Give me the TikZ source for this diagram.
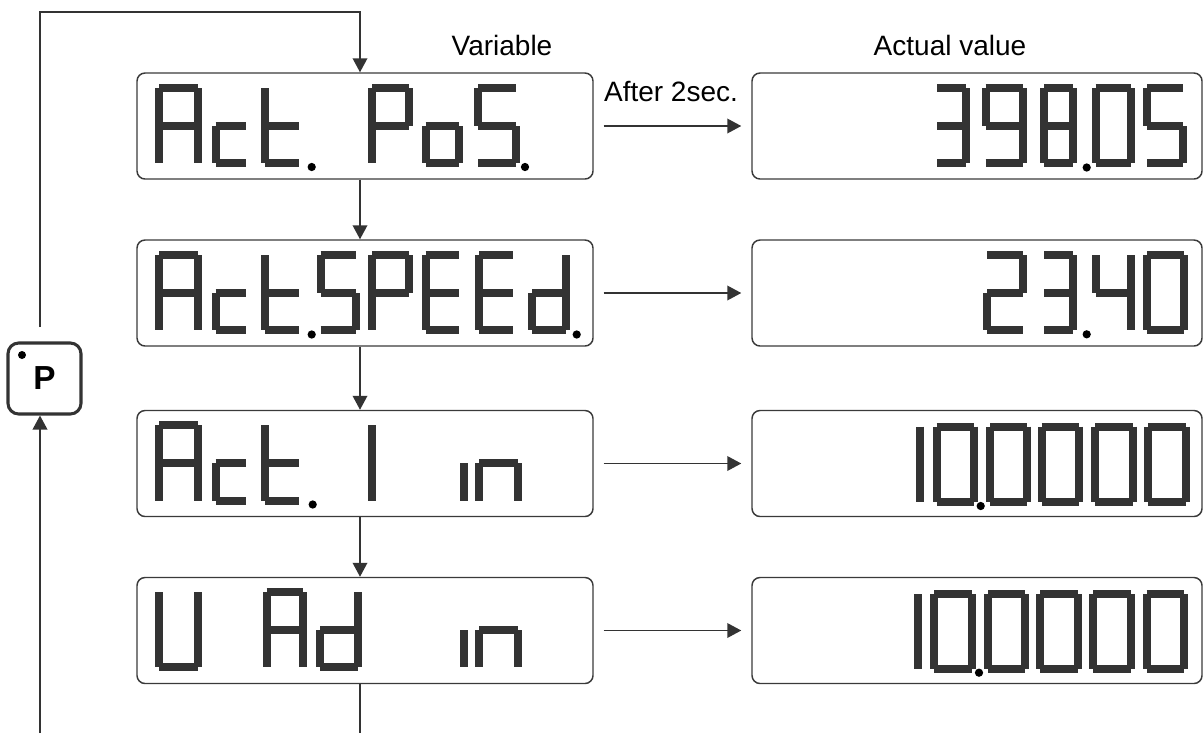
\documentclass[tikz,border=0pt]{standalone}
\usepackage{fontspec}
\setmainfont{Liberation Sans}
\usetikzlibrary{arrows.meta}
\definecolor{segc}{HTML}{333333}
\definecolor{linec}{HTML}{3A3A3A}
\newcommand{\glyph}[6]{%
  \coordinate (ga1) at ({#1+4},{#3+4});
  \coordinate (ga2) at ({#2-4},{#3+4});
  \coordinate (gb1) at ({#2-4},{#3+4});
  \coordinate (gb2) at ({#2-4},{#4});
  \coordinate (gc1) at ({#2-4},{#4});
  \coordinate (gc2) at ({#2-4},{#5-4});
  \coordinate (gd1) at ({#1+4},{#5-4});
  \coordinate (gd2) at ({#2-4},{#5-4});
  \coordinate (ge1) at ({#1+4},{#4});
  \coordinate (ge2) at ({#1+4},{#5-4});
  \coordinate (gf1) at ({#1+4},{#3+4});
  \coordinate (gf2) at ({#1+4},{#4});
  \coordinate (gg1) at ({#1+4},{#4});
  \coordinate (gg2) at ({#2-4},{#4});
  \foreach \s in {#6}{\draw[seg] (g\s1) -- (g\s2);}%
}
\newcommand{\segdot}[2]{\fill[black] (#1,#2) circle[radius=3.1pt];}
\begin{document}
\begin{tikzpicture}[x=0.75pt,y=-0.75pt,
  seg/.style={draw=segc,line width=6pt,line cap=butt},
  dispbox/.style={draw=linec,line width=1.1pt,rounded corners=6pt,inner sep=0pt,minimum height=79.5pt},
  leftbox/.style={dispbox,minimum width=342pt},
  rightbox/.style={dispbox,minimum width=337.5pt},
  pbox/.style={draw=segc,line width=2.3pt,rounded corners=8pt,inner sep=0pt,minimum width=54.75pt,minimum height=53.25pt,font=\fontsize{25}{29}\selectfont\bfseries},
  conn/.style={draw=segc,line width=1.1pt},
  arr/.style={conn,-{Triangle[length=10.5pt,width=11pt]}},
  lbl/.style={inner sep=0pt,font=\fontsize{21}{25}\selectfont}]
\useasboundingbox (0,0) rectangle (1204,733);
% boxes
\node[leftbox] (v1) at (365,126) {};
\node[leftbox] (v2) at (365,293) {};
\node[leftbox] (v3) at (365,463.5) {};
\node[leftbox] (v4) at (365,630.5) {};
\node[rightbox] (a1) at (977,126) {};
\node[rightbox] (a2) at (977,293) {};
\node[rightbox] (a3) at (977,463.5) {};
\node[rightbox] (a4) at (977,630.5) {};
\node[pbox] (P) at (44.5,378.5) {P};
\fill[black] (22,355) circle[radius=3pt];
% labels
\node[lbl] (tvar) at (502,45) {Variable};
\node[lbl] (tact) at (950,45) {Actual value};
\node[lbl] (tafter) at (671,91) {After 2sec.};
% connectors
\coordinate (xl) at (360,0);
\coordinate (ptop) at (40,327);
\coordinate (tl) at (40,12);
\coordinate (pbot) at (40,733);
\coordinate (vbot) at (360,733);
\draw[arr] (ptop) -- (tl) -- (tl -| xl) -- (v1.north -| xl);
\draw[arr] (pbot) -- (P.south -| pbot);
\draw[arr] (v1.south -| xl) -- (v2.north -| xl);
\draw[arr] (v2.south -| xl) -- (v3.north -| xl);
\draw[arr] (v3.south -| xl) -- (v4.north -| xl);
\draw[conn] (v4.south -| xl) -- (vbot);
\draw[arr,shorten <=7.5pt,shorten >=7.5pt] (v1.east) -- (a1.west);
\draw[arr,shorten <=7.5pt,shorten >=7.5pt] (v2.east) -- (a2.west);
\draw[arr,shorten <=7.5pt,shorten >=7.5pt] (v3.east) -- (a3.west);
\draw[arr,shorten <=7.5pt,shorten >=7.5pt] (v4.east) -- (a4.west);
% ---- box 1 left: Act. PoS.
\glyph{155}{201.7}{84}{126}{167}{a,b,c,e,f,g}
\glyph{211.7}{250}{84}{126}{167}{g,e,d}
\glyph{261}{303}{84}{126}{167}{f,e,g,d}
\segdot{311.7}{167}
\glyph{368.3}{413.3}{84}{126}{167}{a,b,f,e,g}
\glyph{421.7}{463.3}{84}{126}{167}{g,c,d,e}
\glyph{474.3}{520}{84}{126}{167}{a,f,g,c,d}
\segdot{525}{167}
% ---- box 2 left: ActSPEEd.
\glyph{155}{201.7}{251}{293}{334}{a,b,c,e,f,g}
\glyph{211.7}{250}{251}{293}{334}{g,e,d}
\glyph{261}{303}{251}{293}{334}{f,e,g,d}
\segdot{311.7}{334.5}
\glyph{316.7}{360}{251}{293}{334}{a,f,g,c,d}
\glyph{368.3}{413.3}{251}{293}{334}{a,b,f,e,g}
\glyph{421.7}{463.3}{251}{293}{334}{a,f,g,e,d}
\glyph{475}{516.7}{251}{293}{334}{a,f,g,e,d}
\glyph{528.3}{570}{251}{293}{334}{b,c,d,e,g}
\segdot{576.7}{334.5}
% ---- box 3 left: Act. I in
\glyph{155}{201.7}{421}{463}{505}{a,b,c,e,f,g}
\glyph{211.7}{250}{421}{463}{505}{g,e,d}
\glyph{261}{303}{421}{463}{505}{f,e,g,d}
\segdot{312.7}{504.5}
\glyph{368.3}{410}{421}{463}{505}{f,e}
\glyph{428}{468.3}{421}{463}{505}{c}
\glyph{475}{521.7}{421}{463}{505}{g,e,c}
% ---- box 4 left: U Ad in
\glyph{155}{201.7}{588}{630}{671}{b,c,d,e,f}
\glyph{262.7}{306.7}{588}{630}{671}{a,b,c,e,f,g}
\glyph{316}{361.7}{588}{630}{671}{b,c,d,e,g}
\glyph{428}{468.3}{588}{630}{671}{c}
\glyph{475}{521.7}{588}{630}{671}{g,e,c}
% ---- box 1 right: 398.05
\glyph{933.3}{970}{84}{126}{167}{a,b,g,c,d}
\glyph{981.7}{1026.7}{84}{126}{167}{a,b,c,d,f,g}
\glyph{1040}{1076.7}{84}{126}{167}{a,b,c,d,e,f,g}
\segdot{1086.7}{167.5}
\glyph{1091.7}{1135}{84}{126}{167}{a,b,c,d,e,f}
\glyph{1143.3}{1186.7}{84}{126}{167}{a,f,g,c,d}
% ---- box 2 right: 23.40
\glyph{983.3}{1026.7}{251}{293}{334}{a,b,g,e,d}
\glyph{1040}{1076.7}{251}{293}{334}{a,b,g,c,d}
\segdot{1086.7}{334.3}
\glyph{1091.7}{1135}{251}{293}{334}{f,g,b,c}
\glyph{1143.3}{1188.3}{251}{293}{334}{a,b,c,d,e,f}
% ---- box 3 right: 10.0000
\glyph{916}{956}{422.5}{464.5}{506}{f,e}
\glyph{932.7}{977.7}{422.5}{464.5}{506}{a,b,c,d,e,f}
\segdot{980.7}{506}
\glyph{986}{1031}{422.5}{464.5}{506}{a,b,c,d,e,f}
\glyph{1037.7}{1083.3}{422.5}{464.5}{506}{a,b,c,d,e,f}
\glyph{1091}{1136.7}{422.5}{464.5}{506}{a,b,c,d,e,f}
\glyph{1144.3}{1190}{422.5}{464.5}{506}{a,b,c,d,e,f}
% ---- box 4 right: 10.0000
\glyph{914.3}{954}{590}{631.5}{673}{f,e}
\glyph{930}{976}{590}{631.5}{673}{a,b,c,d,e,f}
\segdot{979}{672.7}
\glyph{984.3}{1029.3}{590}{631.5}{673}{a,b,c,d,e,f}
\glyph{1036}{1081.7}{590}{631.5}{673}{a,b,c,d,e,f}
\glyph{1089.3}{1135}{590}{631.5}{673}{a,b,c,d,e,f}
\glyph{1142.7}{1188.3}{590}{631.5}{673}{a,b,c,d,e,f}
\end{tikzpicture}
\end{document}
